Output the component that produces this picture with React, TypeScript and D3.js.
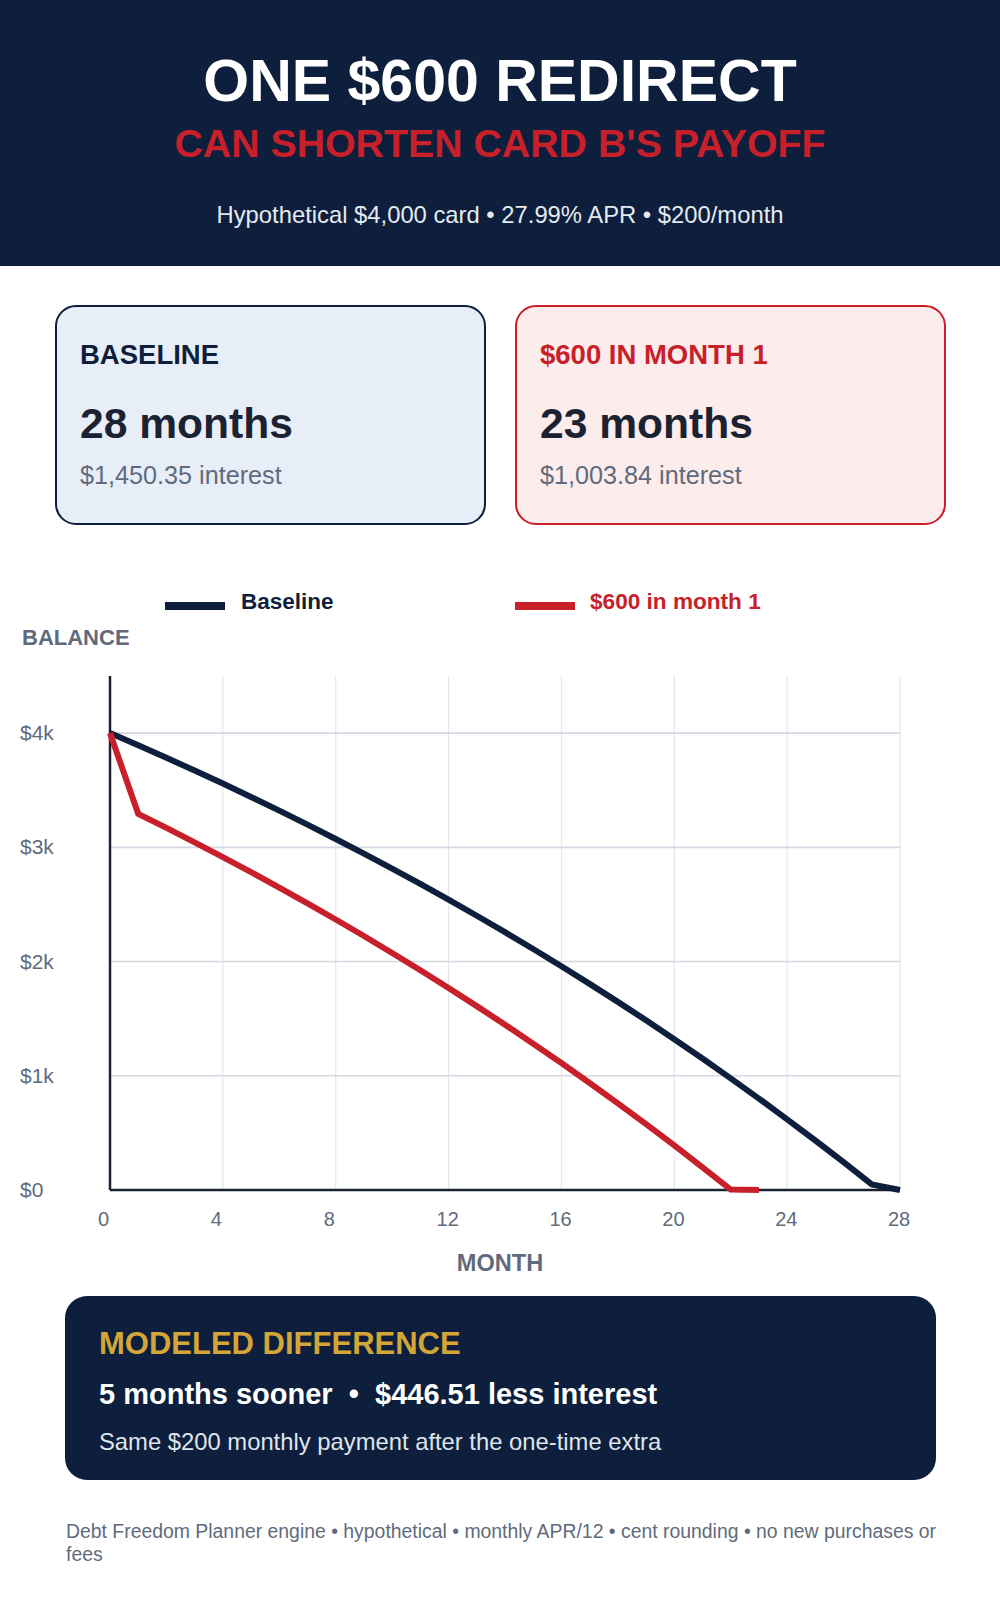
import { useMemo } from 'react';
import * as d3 from 'd3';

// =============================================================================
// Data
// =============================================================================

// month-end balance, $4,000 card, 27.99% APR, $200/month
const baselineBalance = [
	4000, 3893.3, 3784.11, 3672.38, 3558.04, 3441.03, 3321.29, 3198.76, 3073.37, 2945.06, 2813.75, 2679.38, 2541.88, 2401.17, 2257.18, 2109.83, 1959.04,
	1804.73, 1646.83, 1485.24, 1319.88, 1150.67, 977.51, 800.31, 618.98, 433.42, 243.53, 49.21, 0,
];

// same card with an extra $600 in month 1
const redirectBalance = [
	4000, 3293.3, 3170.12, 3044.06, 2915.06, 2783.05, 2647.96, 2509.72, 2368.26, 2223.5, 2075.36, 1923.77, 1768.64, 1609.89, 1447.44, 1281.2, 1111.08,
	937.0, 758.86, 576.56, 390.01, 199.11, 3.75, 0,
];

const monthTicks = [0, 4, 8, 12, 16, 20, 24, 28];
const balanceTicks = [0, 1000, 2000, 3000, 4000];
const balanceTickLabels = ['$0', '$1k', '$2k', '$3k', '$4k'];

const seriesNames = ['Baseline', '$600 in month 1'];

// =============================================================================
// Styles
// =============================================================================

const FONT = '"Liberation Sans", Arial, Helvetica, sans-serif';
const NAVY = '#0d1f3c';
const RED = '#c8202a';
const GOLD = '#d4a537';
const GRAY = '#5f6b7d';
const INK = '#1b2333';

const W = 1000;
const H = 1600;

const plot = { left: 110, right: 900, top: 676, bottom: 1190 };

// =============================================================================
// Component
// =============================================================================

export default function App() {
	const x = useMemo(() => d3.scaleLinear().domain([0, 28]).range([plot.left, plot.right]), []);
	const y = useMemo(() => d3.scaleLinear().domain([0, 4500]).range([plot.bottom, plot.top]), []);

	const line = useMemo(
		() =>
			d3
				.line<number>()
				.x((_, i) => x(i))
				.y((d) => y(d)),
		[x, y]
	);

	return (
		<svg width={W} height={H} viewBox={`0 0 ${W} ${H}`} style={{ position: 'absolute', left: 0, top: 0, display: 'block', background: '#fff' }} fontFamily={FONT}>
			{/* header */}
			<rect x={0} y={0} width={W} height={266} fill={NAVY} />
			<text x={500} y={101} textAnchor="middle" fontSize={59} fontWeight="bold" fill="#fff">
				ONE $600 REDIRECT
			</text>
			<text x={500} y={157} textAnchor="middle" fontSize={39.3} fontWeight="bold" fill={RED}>
				CAN SHORTEN CARD B'S PAYOFF
			</text>
			<text x={500} y={223} textAnchor="middle" fontSize={23.8} fill="#e5e9f0">
				Hypothetical $4,000 card • 27.99% APR • $200/month
			</text>

			{/* summary cards */}
			<rect x={56} y={306} width={429} height={218} rx={20} fill="#e8eef8" stroke={NAVY} strokeWidth={2} />
			<text x={80} y={364} fontSize={27.5} fontWeight="bold" fill={NAVY}>
				BASELINE
			</text>
			<text x={80} y={438} fontSize={42.6} fontWeight="bold" fill={INK}>
				28 months
			</text>
			<text x={80} y={484} fontSize={25.2} fill={GRAY}>
				$1,450.35 interest
			</text>

			<rect x={516} y={306} width={429} height={218} rx={20} fill="#fcecec" stroke={RED} strokeWidth={2} />
			<text x={540} y={364} fontSize={27.5} fontWeight="bold" fill={RED}>
				$600 IN MONTH 1
			</text>
			<text x={540} y={438} fontSize={42.6} fontWeight="bold" fill={INK}>
				23 months
			</text>
			<text x={540} y={484} fontSize={25.2} fill={GRAY}>
				$1,003.84 interest
			</text>

			{/* legend */}
			<rect x={165} y={602} width={60} height={8} fill={NAVY} />
			<text x={241} y={609} fontSize={22.5} fontWeight="bold" fill={NAVY}>
				{seriesNames[0]}
			</text>
			<rect x={515} y={602} width={60} height={8} fill={RED} />
			<text x={590} y={609} fontSize={22.6} fontWeight="bold" fill={RED}>
				{seriesNames[1]}
			</text>

			<text x={22} y={645} fontSize={22} fontWeight="bold" fill={GRAY}>
				BALANCE
			</text>

			{/* grid */}
			{monthTicks
				.filter((m) => m > 0)
				.map((m) => (
					<line key={`vx-${m}`} x1={x(m)} x2={x(m)} y1={plot.top} y2={plot.bottom} stroke="#e4e7ee" strokeWidth={1.2} />
				))}
			{balanceTicks
				.filter((v) => v > 0)
				.map((v) => (
					<line key={`hy-${v}`} x1={plot.left} x2={plot.right} y1={y(v)} y2={y(v)} stroke="#d3d8e3" strokeWidth={1.6} />
				))}

			{/* axes */}
			<line x1={plot.left} x2={plot.left} y1={plot.top} y2={plot.bottom} stroke={INK} strokeWidth={2.5} />
			<line x1={plot.left} x2={plot.right} y1={plot.bottom} y2={plot.bottom} stroke={INK} strokeWidth={2.5} />

			{balanceTicks.map((v, i) => (
				<text key={`yl-${v}`} x={20} y={y(v) + 7} fontSize={21} fill={GRAY}>
					{balanceTickLabels[i]}
				</text>
			))}
			{monthTicks.map((m) => (
				<text key={`xl-${m}`} x={x(m) - 12} y={1226} fontSize={20} fill={GRAY}>
					{m}
				</text>
			))}
			<text x={500} y={1271} textAnchor="middle" fontSize={23.6} fontWeight="bold" fill={GRAY}>
				MONTH
			</text>

			{/* series */}
			<path d={line(baselineBalance) ?? ''} fill="none" stroke={NAVY} strokeWidth={6} />
			<path d={line(redirectBalance) ?? ''} fill="none" stroke={RED} strokeWidth={6} />

			{/* difference box */}
			<rect x={65} y={1296} width={871} height={184} rx={22} fill={NAVY} />
			<text x={99} y={1354} fontSize={31} fontWeight="bold" fill={GOLD}>
				MODELED DIFFERENCE
			</text>
			<text x={99} y={1404} fontSize={29} fontWeight="bold" fill="#fff" style={{ whiteSpace: 'pre' }}>
				{'5 months sooner  •  $446.51 less interest'}
			</text>
			<text x={99} y={1450} fontSize={23.8} fill="#dfe4ec">
				Same $200 monthly payment after the one-time extra
			</text>

			{/* footer */}
			<text fontSize={19.4} fill={GRAY}>
				<tspan x={66} y={1538}>
					Debt Freedom Planner engine • hypothetical • monthly APR/12 • cent rounding • no new purchases or
				</tspan>
				<tspan x={66} y={1561}>
					fees
				</tspan>
			</text>
		</svg>
	);
}
